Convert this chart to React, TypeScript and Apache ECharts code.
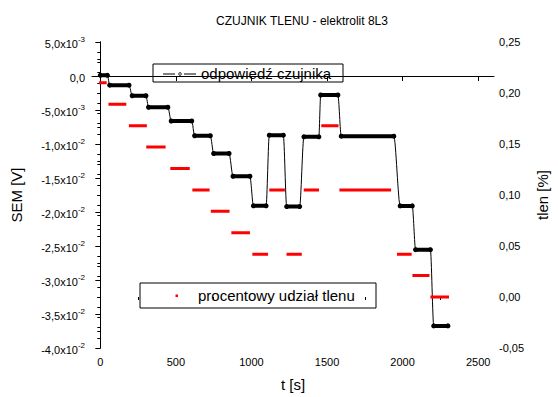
import React, { useEffect, useRef } from 'react';
import * as echarts from 'echarts';

const chartTitle = 'CZUJNIK TLENU - elektrolit 8L3';
const sensorName = 'odpowiedź czujnika';
const oxygenName = 'procentowy udział tlenu';
const xName = 't [s]';
const yLeftName = 'SEM [V]';
const yRightName = 'tlen [%]';

// sensor response plateaus (time start, time end, SEM [V])
const sensorStart = [0, 62, 211, 319, 469, 624, 750, 878, 1013, 1118, 1233, 1347, 1458, 1594, 1984, 2086, 2206];
const sensorEnd = [47, 190, 302, 447, 605, 728, 852, 990, 1097, 1211, 1319, 1446, 1572, 1942, 2064, 2184, 2300];
const sensorValue = [0.0001, -0.00135, -0.0029, -0.00459, -0.00662, -0.00879, -0.0114, -0.01474, -0.01909, -0.0087, -0.0192, -0.00894, -0.0028, -0.00885, -0.0191, -0.02554, -0.03675];

// oxygen share steps (time start, time end, tlen [%])
const oxygenStart = [-8, 54, 189, 304, 463, 609, 731, 867, 1006, 1118, 1232, 1346, 1462, 1582, 1963, 2065, 2184];
const oxygenEnd = [42, 172, 308, 432, 592, 723, 855, 990, 1110, 1221, 1333, 1447, 1576, 1924, 2060, 2178, 2307];
const oxygenValue = [0.21, 0.189, 0.168, 0.147, 0.126, 0.105, 0.084, 0.063, 0.042, 0.105, 0.042, 0.105, 0.168, 0.105, 0.042, 0.021, 0.0];

const xMajorTicks = [0, 500, 1000, 1500, 2000, 2500];
const xMinorTicks = [250, 750, 1250, 1750, 2250];

const FONT = 'Liberation Sans, Arial, sans-serif';

const fmtSci = (val: number) => {
  const v = Math.round(val * 1e6) / 1e6;
  if (Math.abs(v) < 1e-9) return '{b|0,0}';
  const e = Math.floor(Math.log10(Math.abs(v)) + 1e-9);
  const m = v / Math.pow(10, e);
  return `{b|${m.toFixed(1).replace('.', ',')}x10}{s|${e}}`;
};

export default function App() {
  const ref = useRef<HTMLDivElement>(null);
  useEffect(() => {
    if (!ref.current) return;
    const chart = echarts.init(ref.current, undefined, { renderer: 'svg' });

    const sensorCurve: any[] = [];
    const sensorFlat: any[] = [];
    sensorStart.forEach((s, i) => {
      sensorCurve.push([s, sensorValue[i]], [sensorEnd[i], sensorValue[i]]);
      sensorFlat.push([s, sensorValue[i]], [sensorEnd[i], sensorValue[i]], null);
    });
    const oxygenData: any[] = [];
    oxygenStart.forEach((s, i) => {
      oxygenData.push([s, oxygenValue[i]], [oxygenEnd[i], oxygenValue[i]], null);
    });

    const legendText = { fontSize: 15, fontFamily: FONT, fill: '#000' };

    chart.setOption({
      animation: false,
      backgroundColor: '#fff',
      textStyle: { fontFamily: FONT, color: '#000' },
      title: {
        text: chartTitle,
        left: 297,
        top: 10,
        textAlign: 'center',
        textStyle: { fontSize: 12, fontWeight: 'normal', fontFamily: FONT, color: '#000' },
      },
      graphic: [
        {
          type: 'group',
          z: 100,
          children: [
            { type: 'rect', shape: { x: 153, y: 64, width: 190, height: 18 }, style: { fill: '#fff', stroke: '#000', lineWidth: 1 } },
            { type: 'line', shape: { x1: 163, y1: 74, x2: 175, y2: 74 }, style: { stroke: '#000', lineWidth: 1 } },
            { type: 'circle', shape: { cx: 180, cy: 74, r: 1.3 }, style: { fill: '#fff', stroke: '#000', lineWidth: 1 } },
            { type: 'line', shape: { x1: 184, y1: 74, x2: 196, y2: 74 }, style: { stroke: '#000', lineWidth: 1 } },
            { type: 'text', x: 201, y: 73.5, style: { ...legendText, text: sensorName, verticalAlign: 'middle', align: 'left' } },
            { type: 'rect', shape: { x: 140, y: 283, width: 236, height: 25 }, style: { fill: '#fff', stroke: '#000', lineWidth: 1 } },
            { type: 'rect', shape: { x: 175.5, y: 294.5, width: 2.5, height: 2.5 }, style: { fill: '#ff0000' } },
            { type: 'text', x: 198, y: 295.5, style: { ...legendText, text: oxygenName, verticalAlign: 'middle', align: 'left' } },
          ],
        },
      ],
      grid: { left: 92, right: 53, top: 42, bottom: 46 },
      xAxis: [
        {
          type: 'value',
          min: -55,
          max: 2605,
          name: xName,
          nameLocation: 'middle',
          nameGap: 29,
          nameTextStyle: { fontSize: 15, color: '#000', fontFamily: FONT },
          axisLine: { lineStyle: { color: '#000', width: 1 } },
          axisTick: { customValues: xMajorTicks, length: 5, lineStyle: { color: '#000' } },
          axisLabel: {
            customValues: xMajorTicks,
            formatter: (v: number) => String(Math.round(v)),
            fontSize: 11,
            color: '#000',
            margin: 8,
            fontFamily: FONT,
          },
          splitLine: { show: false },
        },
        {
          type: 'value',
          min: -55,
          max: 2605,
          position: 'bottom',
          axisLine: { show: false },
          axisTick: { customValues: xMinorTicks, length: 3, lineStyle: { color: '#000' } },
          axisLabel: { show: false },
          splitLine: { show: false },
        },
      ],
      yAxis: [
        {
          type: 'value',
          min: -0.04,
          max: 0.005,
          interval: 0.005,
          name: yLeftName,
          nameLocation: 'middle',
          nameGap: 68,
          nameRotate: 90,
          nameTextStyle: { fontSize: 15, color: '#000', fontFamily: FONT },
          axisLine: { show: true, lineStyle: { color: '#000', width: 1 } },
          axisTick: { length: 5, lineStyle: { color: '#000' } },
          minorTick: { show: true, splitNumber: 2, length: 3, lineStyle: { color: '#000' } },
          axisLabel: {
            formatter: fmtSci,
            margin: 7,
            color: '#000',
            rich: {
              b: { fontSize: 11, fontFamily: FONT, color: '#000', lineHeight: 14, verticalAlign: 'bottom' },
              s: { fontSize: 8, fontFamily: FONT, color: '#000', lineHeight: 8, verticalAlign: 'top' },
            },
          },
          splitLine: { show: false },
        },
        {
          type: 'value',
          min: -0.05,
          max: 0.25,
          interval: 0.05,
          position: 'right',
          name: yRightName,
          nameLocation: 'middle',
          nameGap: 34,
          nameRotate: 90,
          nameTextStyle: { fontSize: 15, color: '#000', fontFamily: FONT },
          axisLine: { show: true, lineStyle: { color: '#000', width: 1 } },
          axisTick: { inside: true, length: 3, lineStyle: { color: '#000' } },
          minorTick: { show: true, splitNumber: 5, length: 3, lineStyle: { color: '#000' } },
          axisLabel: {
            formatter: (v: number) => v.toFixed(2).replace('.', ','),
            fontSize: 11,
            margin: 5,
            color: '#000',
            fontFamily: FONT,
          },
          splitLine: { show: false },
        },
      ],
      series: [
        {
          name: sensorName,
          type: 'line',
          xAxisIndex: 0,
          yAxisIndex: 0,
          data: sensorCurve,
          smooth: 0.3,
          smoothMonotone: 'x',
          symbol: 'emptyCircle',
          symbolSize: 3,
          showSymbol: true,
          lineStyle: { color: '#000', width: 1 },
          itemStyle: { color: '#000', borderColor: '#000', borderWidth: 1 },
          z: 2,
        },
        {
          name: 'sensorFlat',
          type: 'line',
          xAxisIndex: 0,
          yAxisIndex: 0,
          data: sensorFlat,
          showSymbol: false,
          connectNulls: false,
          lineStyle: { color: '#000', width: 4, cap: 'round' },
          itemStyle: { color: '#000' },
          z: 3,
        },
        {
          name: oxygenName,
          type: 'line',
          xAxisIndex: 0,
          yAxisIndex: 1,
          data: oxygenData,
          showSymbol: false,
          connectNulls: false,
          lineStyle: { color: '#ff0000', width: 3 },
          itemStyle: { color: '#ff0000' },
          z: 4,
        },
      ],
    });
    return () => chart.dispose();
  }, []);
  return <div ref={ref} style={{ position: 'fixed', left: 0, top: 0, width: 558, height: 397 }} />;
}
